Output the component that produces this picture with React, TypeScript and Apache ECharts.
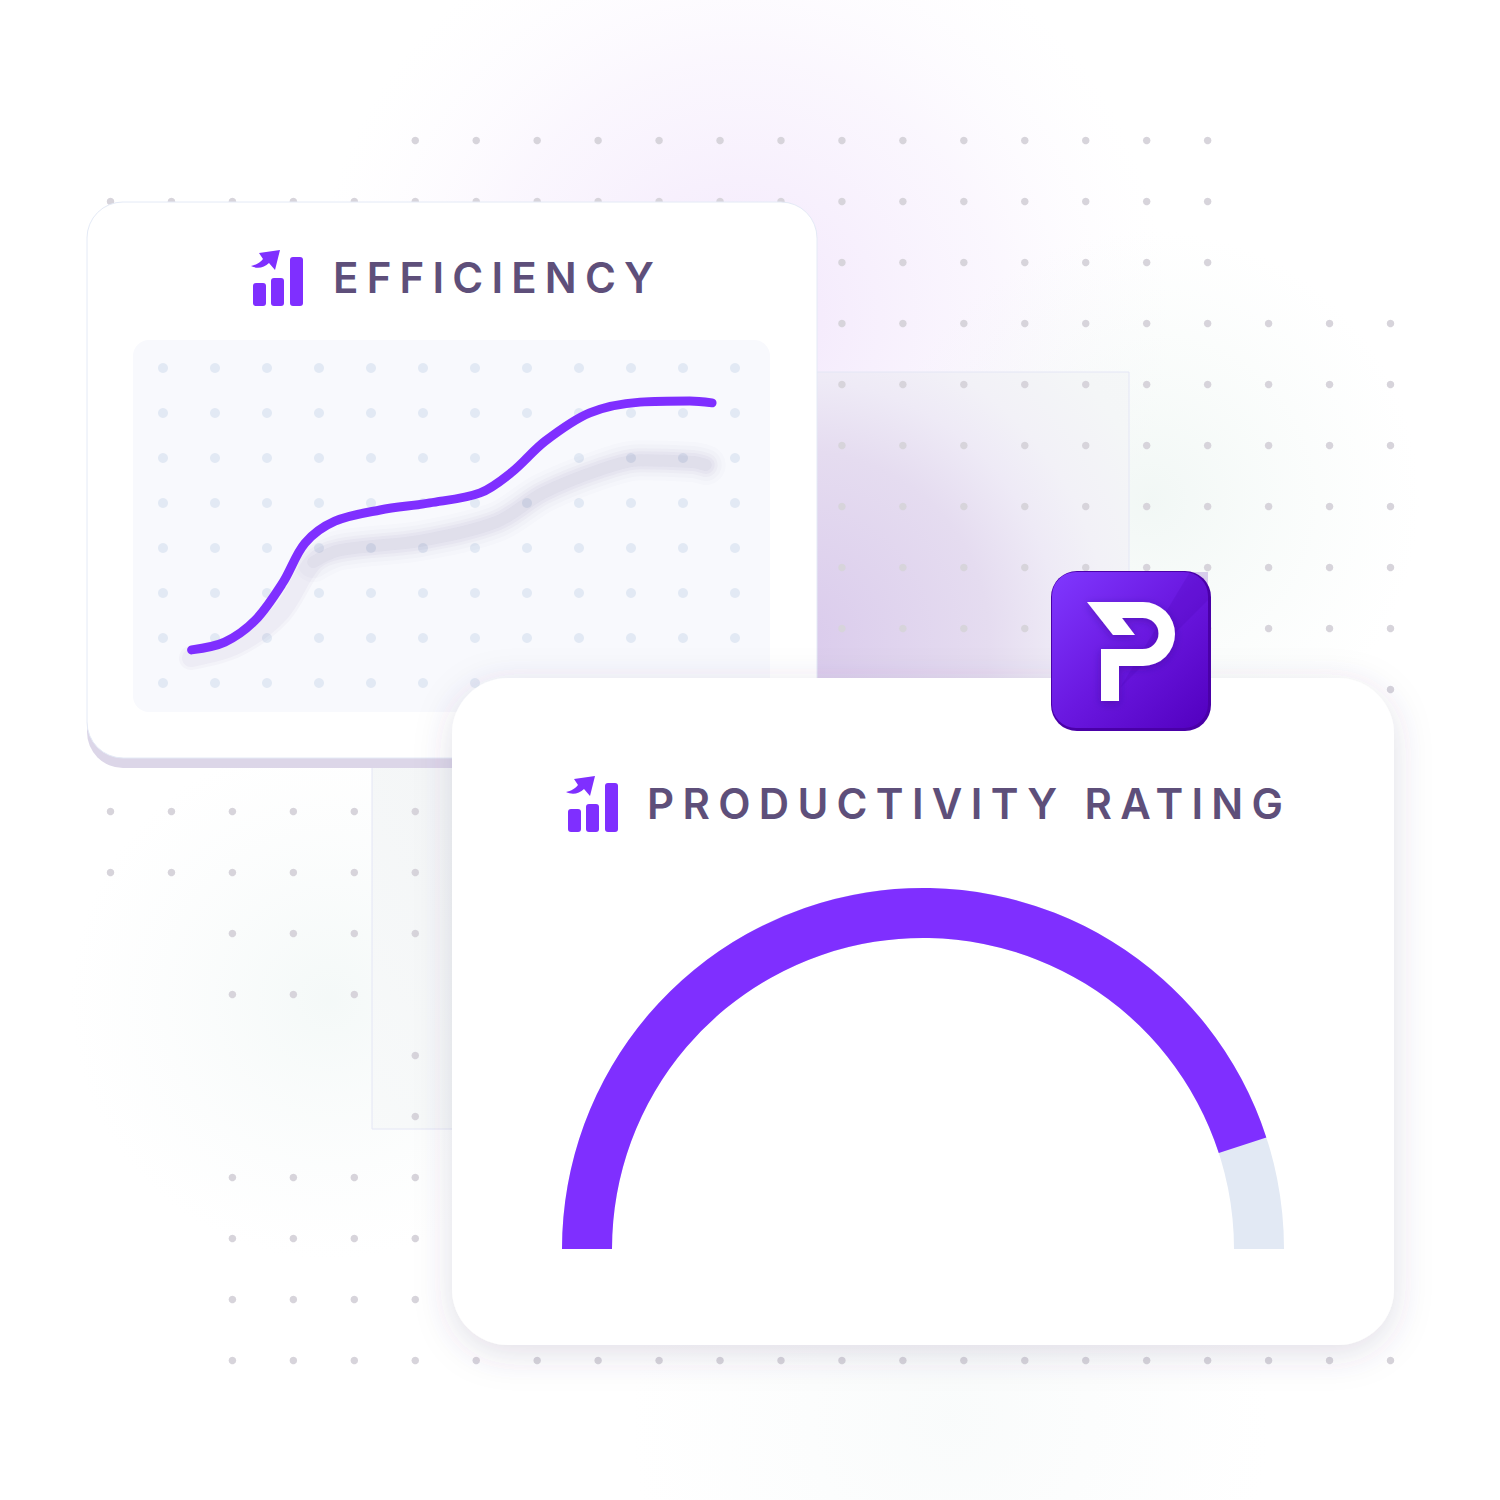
import React, { useEffect, useRef } from "react";
import * as echarts from "echarts";

const titleTop = "EFFICIENCY";
const titleBottom = "PRODUCTIVITY RATING";

// Efficiency curve, in percent of the inner panel
const curveX = [9.2, 14.4, 19.2, 23.5, 27.0, 31.7, 38.8, 46.6, 54.5, 59.5, 64.7, 71.7, 79.6, 87.4, 90.9];
const curveY = [16.7, 18.8, 24.7, 34.7, 45.4, 51.3, 54.3, 56.2, 58.9, 64.5, 72.8, 80.4, 83.3, 83.6, 83.1];
const shadowX = [9.1, 16.3, 23.1, 28.3, 32.5, 45.1, 57.1, 64.4, 73.3, 79.6, 87.9, 89.9];
const shadowY = [14.5, 18.0, 26.6, 40.3, 43.5, 46.0, 51.1, 58.9, 65.1, 67.7, 67.2, 66.4];

// Gauge
const ratingValue = 90;

// Background dot lattice: row index, then inclusive column ranges
const bgRows: [number, [number, number][]][] = [
  [0, [[5, 18]]],
  [1, [[0, 18]]],
  [2, [[12, 18]]],
  [3, [[12, 21]]],
  [4, [[12, 21]]],
  [5, [[12, 21]]],
  [6, [[12, 21]]],
  [7, [[12, 21]]],
  [8, [[12, 21]]],
  [9, [[21, 21]]],
  [11, [[0, 5]]],
  [12, [[0, 5]]],
  [13, [[2, 5]]],
  [14, [[2, 4]]],
  [15, [[5, 5]]],
  [16, [[5, 5]]],
  [17, [[2, 5]]],
  [18, [[2, 5]]],
  [19, [[2, 5]]],
  [20, [[2, 21]]],
];
const panelCols = [0, 1, 2, 3, 4, 5, 6, 7, 8, 9, 10, 11];
const panelRows = [0, 1, 2, 3, 4, 5, 6, 7];

const purple = "#7f2fff";
const ink = "#5e4f7a";

const ARROW = "M259 253 L280 250 L275 270 L269 263 C264 268 257 269 251 266 C256 265 261 262 263 259 Z";
const PMARK = "M1087 602 L1143 602 A32 32 0 0 1 1143 666 L1119 666 L1119 701 L1101 701 L1101 649 L1143 649 A15.5 15.5 0 0 0 1143 618 L1122 618 L1135 635 L1113 635 Z";
echarts.graphic.registerShape("arrowMark", echarts.graphic.extendPath(ARROW, {}));
echarts.graphic.registerShape("pMark", echarts.graphic.extendPath(PMARK, {}));

const radial = (x: number, y: number, r: number, stops: [number, string][]) => ({
  type: "radial", x, y, r, global: true,
  colorStops: stops.map(([offset, color]) => ({ offset, color })),
});

const icon = (dx: number, dy: number, z: number) => [
  { type: "arrowMark", x: dx, y: dy, z, silent: true, style: { fill: purple } },
  { type: "rect", z, silent: true, shape: { x: 253 + dx, y: 283 + dy, width: 13, height: 23, r: 3 }, style: { fill: purple } },
  { type: "rect", z, silent: true, shape: { x: 271 + dx, y: 278 + dy, width: 13, height: 28, r: 3 }, style: { fill: purple } },
  { type: "rect", z, silent: true, shape: { x: 290 + dx, y: 257 + dy, width: 13, height: 49, r: 3 }, style: { fill: purple } },
];

const glowLine = (id: number, width: number, alpha: number, from: number) => ({
  type: "line", name: "shadow" + id, xAxisIndex: 2, yAxisIndex: 2, z: 5, silent: true, smooth: 0.33, showSymbol: false, symbol: "none", clip: false,
  data: shadowX.map((x, i) => [x, shadowY[i]]).slice(from),
  lineStyle: { width, color: `rgba(84,66,130,${alpha})`, cap: "round", join: "round" },
});

const App = () => {
  const ref = useRef<HTMLDivElement>(null);
  useEffect(() => {
    const chart = echarts.init(ref.current!, undefined, { renderer: "svg" });
    const bgData: number[][] = [];
    bgRows.forEach(([r, spans]) => spans.forEach(([a, b]) => { for (let c = a; c <= b; c++) bgData.push([c, r]); }));
    const panelData: number[][] = [];
    panelRows.forEach((r) => panelCols.forEach((c) => panelData.push([c, r])));

    chart.setOption({
      animation: false,
      backgroundColor: "#ffffff",
      tooltip: { show: false },
      legend: { show: false },
      grid: [
        { left: 110.5, top: 140.5, width: 1280, height: 1220 },
        { left: 163, top: 368, width: 572, height: 315 },
        { left: 133, top: 340, width: 637, height: 372 },
      ],
      xAxis: [
        { type: "value", gridIndex: 0, min: 0, max: 21, show: false },
        { type: "value", gridIndex: 1, min: 0, max: 11, show: false },
        { type: "value", gridIndex: 2, min: 0, max: 100, show: false },
      ],
      yAxis: [
        { type: "value", gridIndex: 0, min: 0, max: 20, inverse: true, show: false },
        { type: "value", gridIndex: 1, min: 0, max: 7, inverse: true, show: false },
        { type: "value", gridIndex: 2, min: 0, max: 100, show: false },
      ],
      graphic: {
        elements: [
          // soft glows
          { type: "rect", z: 0, silent: true, shape: { x: 0, y: 0, width: 1500, height: 1500 },
            style: { fill: radial(740, 320, 430, [[0, "rgba(200,150,240,0.24)"], [0.6, "rgba(215,180,245,0.11)"], [1, "rgba(240,225,250,0)"]]) } },
          { type: "rect", z: 0, silent: true, shape: { x: 0, y: 0, width: 1500, height: 1500 },
            style: { fill: radial(1150, 500, 270, [[0, "rgba(225,238,233,0.45)"], [1, "rgba(235,245,240,0)"]]) } },
          { type: "rect", z: 0, silent: true, shape: { x: 0, y: 0, width: 1500, height: 1500 },
            style: { fill: radial(330, 1000, 260, [[0, "rgba(225,238,235,0.36)"], [1, "rgba(235,242,242,0)"]]) } },
          { type: "rect", z: 0, silent: true, shape: { x: 0, y: 0, width: 1500, height: 1500 },
            style: { fill: radial(950, 1420, 320, [[0, "rgba(232,240,240,0.25)"], [1, "rgba(235,242,242,0)"]]) } },
          // thin square with a purple bloom
          { type: "rect", z: 0, silent: true, shape: { x: 372, y: 372, width: 757, height: 757 },
            style: { fill: radial(800, 640, 700, [[0, "#dacbec"], [0.27, "#e5dcf0"], [0.37, "#eeeaf6"], [0.44, "#f2f1f7"], [0.55, "#f4f6f7"], [1, "#f8fafa"]]), stroke: "#e4e6f5", lineWidth: 1 } },
          // first card
          { type: "rect", z: 2, silent: true, shape: { x: 87, y: 212, width: 730, height: 556, r: 36 }, style: { fill: "#dcd6e8" } },
          { type: "rect", z: 2, silent: true, shape: { x: 87, y: 202, width: 730, height: 556, r: 36 }, style: { fill: "#ffffff", stroke: "#e4eaf6", lineWidth: 1 } },
          { type: "rect", z: 3, silent: true, shape: { x: 133, y: 340, width: 637, height: 372, r: 16 }, style: { fill: "#f8f9fd" } },
          ...icon(0, 0, 3),
          { type: "text", z: 3, silent: true, x: 333, y: 277, style: { text: titleTop, fill: ink, font: "600 42px Inter", textAlign: "left", textVerticalAlign: "middle" } },
          // second card
          { type: "rect", z: 6, silent: true, shape: { x: 452, y: 678, width: 942, height: 667, r: 56 }, style: { fill: "#ffffff", shadowBlur: 36, shadowColor: "rgba(70,60,110,0.17)", shadowOffsetY: 8 } },
          ...icon(315, 526, 7),
          { type: "text", z: 7, silent: true, x: 647, y: 803, style: { text: titleBottom, fill: ink, font: "600 42px Inter", textAlign: "left", textVerticalAlign: "middle" } },
          // badge
          { type: "rect", z: 8, silent: true, shape: { x: 1051, y: 571, width: 160, height: 160, r: 26 }, style: { fill: "#4a00a8" } },
          { type: "rect", z: 8, silent: true, shape: { x: 1052, y: 572, width: 156, height: 156, r: 24 },
            style: { fill: { type: "linear", x: 0, y: 0, x2: 1, y2: 1, colorStops: [{ offset: 0, color: "#8038ff" }, { offset: 0.5, color: "#6a18e0" }, { offset: 1, color: "#5200bf" }] } } },
          { type: "polygon", z: 8, silent: true, shape: { points: [[1190, 572], [1208, 572], [1208, 600], [1120, 688]] }, style: { fill: "rgba(70,0,170,0.18)" } },
          { type: "pMark", z: 9, silent: true, style: { fill: "#ffffff", shadowBlur: 8, shadowColor: "rgba(40,0,110,0.35)", shadowOffsetY: 2 } },
        ],
      },
      series: [
        {
          type: "scatter", name: "backgroundDots", xAxisIndex: 0, yAxisIndex: 0, z: 1, silent: true, clip: false,
          symbolSize: 7.5, itemStyle: { color: "#d7d4db", opacity: 1 }, data: bgData,
        },
        {
          type: "scatter", name: "panelDots", xAxisIndex: 1, yAxisIndex: 1, z: 4, silent: true, clip: false,
          symbolSize: 10, itemStyle: { color: "#e2e9f4", opacity: 1 }, data: panelData,
        },
        glowLine(1, 40, 0.016, 3),
        glowLine(2, 32, 0.022, 3),
        glowLine(3, 24, 0.03, 0),
        glowLine(4, 18, 0.035, 0),
        glowLine(5, 12, 0.04, 3),
        {
          type: "line", name: "Efficiency", xAxisIndex: 2, yAxisIndex: 2, z: 5, silent: true, smooth: 0.33, showSymbol: false, symbol: "none", clip: false,
          data: curveX.map((x, i) => [x, curveY[i]]),
          lineStyle: { width: 9, color: purple, cap: "round", join: "round" },
        },
        {
          type: "gauge", name: "Productivity rating", z: 7, silent: true,
          center: [923, 1249], radius: 361, startAngle: 180, endAngle: 0, min: 0, max: 100,
          axisLine: { roundCap: false, lineStyle: { width: 50, color: [[1, "#e2e9f4"]] } },
          progress: { show: true, width: 50, roundCap: false, itemStyle: { color: purple } },
          pointer: { show: false }, anchor: { show: false }, axisTick: { show: false }, splitLine: { show: false }, axisLabel: { show: false },
          title: { show: false }, detail: { show: false },
          data: [{ value: ratingValue }],
        },
      ],
    });

    const spacing = () => {
      ref.current?.querySelectorAll("text").forEach((t) => {
        t.style.letterSpacing = t.textContent === titleTop ? "8.2px" : "8.32px";
      });
    };
    spacing();
    chart.on("finished", spacing);
    return () => chart.dispose();
  }, []);
  return <div ref={ref} style={{ position: "absolute", left: 0, top: 0, width: 1500, height: 1500 }} />;
};

export default App;
